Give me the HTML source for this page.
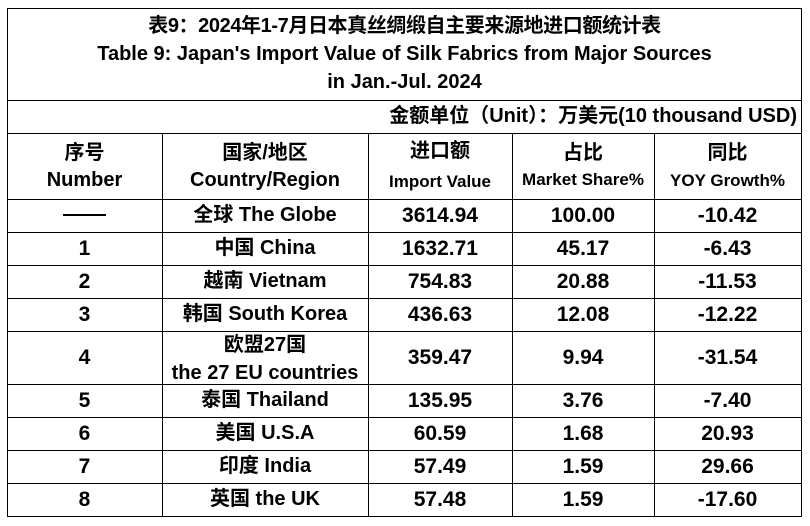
<!DOCTYPE html>
<html>
<head>
<meta charset="utf-8">
<style>
  html, body { margin:0; padding:0; background:#fff; }
  body { width:810px; height:526px; position:relative; overflow:hidden;
         font-family:"Liberation Sans","Noto Sans CJK SC",sans-serif; font-weight:bold; color:#000; }
  .h { position:absolute; left:7px; width:795px; height:1px; background:#000; }
  .v { position:absolute; width:1px; background:#000; }
  .t { position:absolute; text-align:center; white-space:nowrap; font-size:20px; }
  .s { font-size:17px; }
  .n { font-size:21px; }
</style>
</head>
<body>
<!-- horizontal lines -->
<div class="h" style="top:8px"></div>
<div class="h" style="top:100px"></div>
<div class="h" style="top:133px"></div>
<div class="h" style="top:199px"></div>
<div class="h" style="top:232px"></div>
<div class="h" style="top:265px"></div>
<div class="h" style="top:298px"></div>
<div class="h" style="top:331px"></div>
<div class="h" style="top:384px"></div>
<div class="h" style="top:417px"></div>
<div class="h" style="top:450px"></div>
<div class="h" style="top:483px"></div>
<div class="h" style="top:516px"></div>
<!-- vertical lines -->
<div class="v" style="left:7px;top:8px;height:509px"></div>
<div class="v" style="left:801px;top:8px;height:509px"></div>
<div class="v" style="left:162px;top:133px;height:384px"></div>
<div class="v" style="left:368px;top:133px;height:384px"></div>
<div class="v" style="left:512px;top:133px;height:384px"></div>
<div class="v" style="left:654px;top:133px;height:384px"></div>

<!-- title -->
<div class="t" style="left:7px;width:795px;top:12px;line-height:28px;"><span style="letter-spacing:-0.4px">表9：2024年1-7月日本真丝绸缎自主要来源地进口额统计表</span><br>Table 9: Japan's Import Value of Silk Fabrics from Major Sources<br>in Jan.-Jul. 2024</div>

<!-- unit -->
<div class="t" style="left:7px;width:790px;top:100px;line-height:33px;text-align:right;">金额单位（Unit）：万美元(10 thousand USD)</div>

<!-- header -->
<div class="t" style="left:7px;width:155px;top:139.5px;line-height:27px;">序号</div>
<div class="t" style="left:7px;width:155px;top:166.5px;line-height:27px;">Number</div>
<div class="t" style="left:162px;width:206px;top:139.5px;line-height:27px;">国家/地区</div>
<div class="t" style="left:162px;width:206px;top:166.5px;line-height:27px;">Country/Region</div>
<div class="t" style="left:368px;width:144px;top:138px;line-height:27px;">进口额</div>
<div class="t s" style="left:368px;width:144px;top:167.5px;line-height:27px;">Import Value</div>
<div class="t" style="left:512px;width:142px;top:140px;line-height:27px;">占比</div>
<div class="t s" style="left:512px;width:142px;top:166px;line-height:27px;">Market Share%</div>
<div class="t" style="left:654px;width:147px;top:140px;line-height:27px;">同比</div>
<div class="t s" style="left:654px;width:147px;top:166.5px;line-height:27px;">YOY Growth%</div>

<!-- row: globe -->
<div style="position:absolute;left:63px;top:214px;width:43px;height:2px;background:#000;"></div>
<div class="t" style="left:162px;width:206px;top:199px;line-height:33px;">全球 The Globe</div>
<div class="t n" style="left:368px;width:144px;top:199px;line-height:33px;">3614.94</div>
<div class="t n" style="left:512px;width:142px;top:199px;line-height:33px;">100.00</div>
<div class="t n" style="left:654px;width:147px;top:199px;line-height:33px;">-10.42</div>

<!-- row 1 -->
<div class="t n" style="left:7px;width:155px;top:232px;line-height:33px;">1</div>
<div class="t" style="left:162px;width:206px;top:232px;line-height:33px;">中国 China</div>
<div class="t n" style="left:368px;width:144px;top:232px;line-height:33px;">1632.71</div>
<div class="t n" style="left:512px;width:142px;top:232px;line-height:33px;">45.17</div>
<div class="t n" style="left:654px;width:147px;top:232px;line-height:33px;">-6.43</div>

<!-- row 2 -->
<div class="t n" style="left:7px;width:155px;top:265px;line-height:33px;">2</div>
<div class="t" style="left:162px;width:206px;top:265px;line-height:33px;">越南 Vietnam</div>
<div class="t n" style="left:368px;width:144px;top:265px;line-height:33px;">754.83</div>
<div class="t n" style="left:512px;width:142px;top:265px;line-height:33px;">20.88</div>
<div class="t n" style="left:654px;width:147px;top:265px;line-height:33px;">-11.53</div>

<!-- row 3 -->
<div class="t n" style="left:7px;width:155px;top:298px;line-height:33px;">3</div>
<div class="t" style="left:162px;width:206px;top:298px;line-height:33px;">韩国 South Korea</div>
<div class="t n" style="left:368px;width:144px;top:298px;line-height:33px;">436.63</div>
<div class="t n" style="left:512px;width:142px;top:298px;line-height:33px;">12.08</div>
<div class="t n" style="left:654px;width:147px;top:298px;line-height:33px;">-12.22</div>

<!-- row 4 -->
<div class="t n" style="left:7px;width:155px;top:331px;line-height:53px;">4</div>
<div class="t" style="left:162px;width:206px;top:331px;line-height:28px;">欧盟27国<br>the 27 EU countries</div>
<div class="t n" style="left:368px;width:144px;top:331px;line-height:53px;">359.47</div>
<div class="t n" style="left:512px;width:142px;top:331px;line-height:53px;">9.94</div>
<div class="t n" style="left:654px;width:147px;top:331px;line-height:53px;">-31.54</div>

<!-- row 5 -->
<div class="t n" style="left:7px;width:155px;top:384px;line-height:33px;">5</div>
<div class="t" style="left:162px;width:206px;top:384px;line-height:33px;">泰国 Thailand</div>
<div class="t n" style="left:368px;width:144px;top:384px;line-height:33px;">135.95</div>
<div class="t n" style="left:512px;width:142px;top:384px;line-height:33px;">3.76</div>
<div class="t n" style="left:654px;width:147px;top:384px;line-height:33px;">-7.40</div>

<!-- row 6 -->
<div class="t n" style="left:7px;width:155px;top:417px;line-height:33px;">6</div>
<div class="t" style="left:162px;width:206px;top:417px;line-height:33px;">美国 U.S.A</div>
<div class="t n" style="left:368px;width:144px;top:417px;line-height:33px;">60.59</div>
<div class="t n" style="left:512px;width:142px;top:417px;line-height:33px;">1.68</div>
<div class="t n" style="left:654px;width:147px;top:417px;line-height:33px;">20.93</div>

<!-- row 7 -->
<div class="t n" style="left:7px;width:155px;top:450px;line-height:33px;">7</div>
<div class="t" style="left:162px;width:206px;top:450px;line-height:33px;">印度 India</div>
<div class="t n" style="left:368px;width:144px;top:450px;line-height:33px;">57.49</div>
<div class="t n" style="left:512px;width:142px;top:450px;line-height:33px;">1.59</div>
<div class="t n" style="left:654px;width:147px;top:450px;line-height:33px;">29.66</div>

<!-- row 8 -->
<div class="t n" style="left:7px;width:155px;top:483px;line-height:33px;">8</div>
<div class="t" style="left:162px;width:206px;top:483px;line-height:33px;">英国 the UK</div>
<div class="t n" style="left:368px;width:144px;top:483px;line-height:33px;">57.48</div>
<div class="t n" style="left:512px;width:142px;top:483px;line-height:33px;">1.59</div>
<div class="t n" style="left:654px;width:147px;top:483px;line-height:33px;">-17.60</div>
</body>
</html>
